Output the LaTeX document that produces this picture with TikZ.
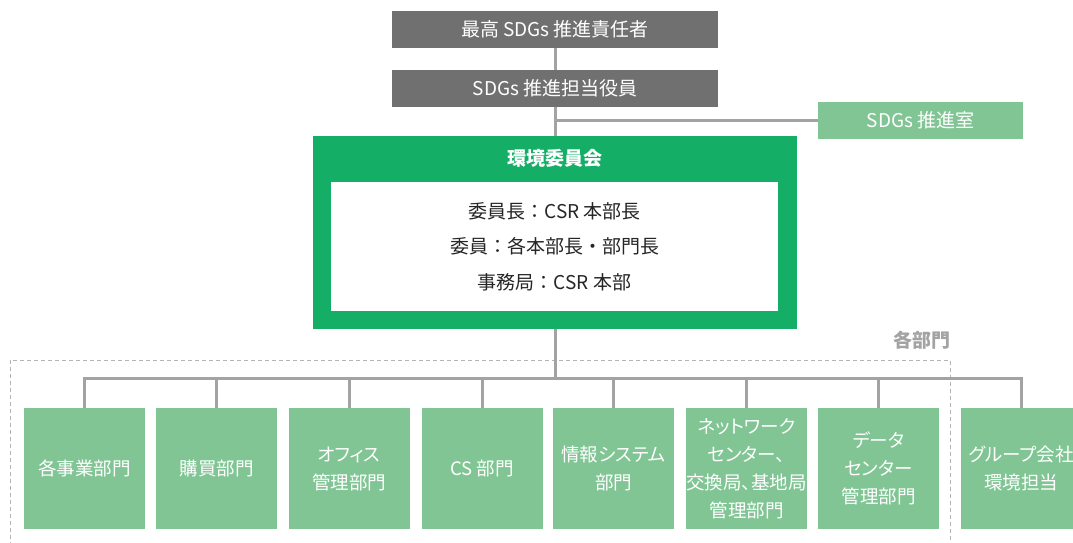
\documentclass[tikz,border=0pt]{standalone}
\usepackage{fontspec}
\setmainfont{Noto Sans CJK JP}
\newfontfamily\paltfont[RawFeature=+palt]{Noto Sans CJK JP}
\definecolor{dgray}{HTML}{707070}
\definecolor{lgray}{HTML}{A3A3A3}
\definecolor{dashgray}{HTML}{B5B5B5}
\definecolor{mygreen}{HTML}{14AE67}
\definecolor{lgreen}{HTML}{81C595}
\tikzset{
  topbox/.style={fill=dgray, text=white, minimum width=326pt, minimum height=37pt, inner sep=0pt, font=\fontsize{19}{22}\selectfont},
  roombox/.style={fill=lgreen, text=white, minimum width=205pt, minimum height=37pt, inner sep=0pt, font=\fontsize{19}{22}\selectfont},
  deptbox/.style={fill=lgreen, text=white, minimum width=121pt, minimum height=121pt, inner sep=0pt, align=center, font=\paltfont\fontsize{18.5}{28}\selectfont},
  conn/.style={draw=lgray, line width=3pt},
}
\begin{document}
\begin{tikzpicture}[x=1pt,y=-1pt]
\useasboundingbox (0,0) rectangle (1073,542);
\clip (0,0) rectangle (1073,542);
% top boxes
\node[topbox] (r1) at (555,29.5) {最高 SDGs 推進責任者};
\node[topbox] (r2) at (555,88.5) {SDGs 推進担当役員};
\node[roombox] (room) at (920.5,120.5) {SDGs 推進室};
% committee
\node[fill=mygreen, minimum width=484pt, minimum height=193pt, inner sep=0pt] (comm) at (555,232.5) {};
\node[text=white, font=\bfseries\fontsize{19}{22}\selectfont, inner sep=0pt] (title) at (555,158.5) {環境委員会};
\node[fill=white, minimum width=447pt, minimum height=129pt, inner sep=0pt, align=center, font=\fontsize{19}{35.5}\selectfont, text=black!85] (inner) at (554.5,246.5) {委員長：CSR 本部長\\委員：各本部長・部門長\\事務局：CSR 本部};
% connectors top
\draw[conn] (r1.south) -- (r2.north);
\draw[conn] (r2.south) -- (comm.north);
\draw[conn] (room.west) -- (room.west -| r2.south);
% dashed group
\draw[dashgray, line width=1pt, dash pattern=on 4pt off 3pt] (10,560) -- (10,360) -- (950,360) -- (950,560);
\node[anchor=east, text=lgray, font=\bfseries\fontsize{19}{22}\selectfont, inner sep=0pt] (grp) at (951,340) {各部門};
% departments
\node[deptbox] (d1) at (84.5,468.5) {各事業部門};
\node[deptbox] (d2) at (216.5,468.5) {購買部門};
\node[deptbox] (d3) at (349,468.5) {オフィス\\管理部門};
\node[deptbox] (d4) at (482,468.5) {CS 部門};
\node[deptbox] (d5) at (613.5,468.5) {情報システム\\部門};
\node[deptbox] (d6) at (746.5,468.5) {ネットワーク\\センター、\\交換局、基地局\\管理部門};
\node[deptbox] (d7) at (878.5,468.5) {データ\\センター\\管理部門};
\node[deptbox] (d8) at (1021,468.5) {グループ会社\\環境担当};
% bus
\coordinate (j) at (555,378);
\draw[conn] (comm.south) -- (j);
\foreach \d in {d1,d2,d3,d4,d5,d6,d7,d8} {
  \draw[conn] (\d.north) |- (j);
}
\end{tikzpicture}
\end{document}
